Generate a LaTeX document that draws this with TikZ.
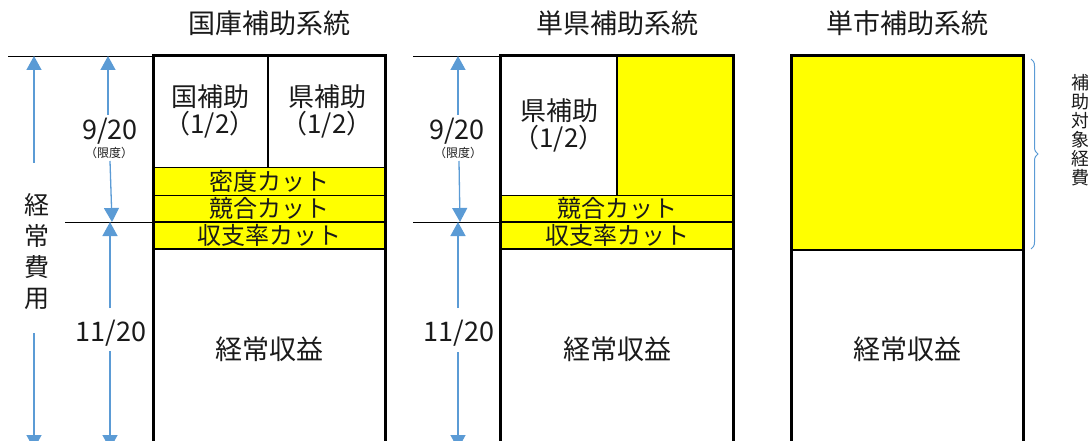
\documentclass[tikz,border=0pt]{standalone}
\usepackage{fontspec}
\setmainfont{Noto Sans CJK JP}
\usetikzlibrary{arrows.meta,decorations.pathreplacing}
\definecolor{ablue}{HTML}{5B9BD5}
\definecolor{ylw}{HTML}{FFFF00}
\definecolor{txt}{HTML}{1A1A1A}
\begin{document}
\begin{tikzpicture}[x=1pt,y=-1pt,
  ar/.style={draw=ablue,line width=1.3pt,-{Triangle[width=15pt,length=14pt]}},
  thin/.style={draw=black,line width=0.9pt},
  frame/.style={draw=black,line width=3pt},
  mid/.style={draw=black,line width=2.6pt},
  title/.style={font=\fontsize{27}{30}\selectfont,text=txt,inner sep=0pt},
  big/.style={font=\fontsize{26}{27}\selectfont,text=txt,inner sep=0pt,align=center},
  cut/.style={font=\fontsize{24}{26}\selectfont,text=txt,inner sep=0pt},
  res/.style={font=\fontsize{27}{30}\selectfont,text=txt,inner sep=0pt},
  frac/.style={font=\fontsize{27}{30}\selectfont,text=txt,inner sep=0pt},
  small/.style={font=\fontsize{12}{14}\selectfont,text=txt,inner sep=0pt},
  vert/.style={font=\fontsize{25}{31}\selectfont,text=txt,inner sep=0pt,align=center},
  vsmall/.style={font=\fontsize{18}{19}\selectfont,text=txt,inner sep=0pt,align=center}]
\useasboundingbox (0,0) rectangle (1088,441);

% titles
\node[title] (t1) at (269,23) {国庫補助系統};
\node[title] (t2) at (617,23) {単県補助系統};
\node[title] (t3) at (907,23) {単市補助系統};

% ---------- column 1 ----------
\fill[ylw] (153,167) rectangle (385,249);
\draw[thin] (153,167) -- (385,167);
\draw[thin] (153,195) -- (385,195);
\draw[mid] (153,222) -- (385,222);
\draw[mid] (153,249) -- (385,249);
\draw[mid] (268,56) -- (268,167);
\draw[frame] (153,460) -- (153,56) -- (385,56) -- (385,460);
\node[big] (kuni) at (210,111) {国補助\\（1/2）};
\node[big] (ken1) at (327,111) {県補助\\（1/2）};
\node[cut] (mitsudo) at (269,181) {密度カット};
\node[cut] (kyogo1) at (269,208.5) {競合カット};
\node[cut] (shushi1) at (269,235.5) {収支率カット};
\node[res] (shueki1) at (269,349) {経常収益};

% left dimension lines col1
\coordinate (h1a) at (8,56);   \coordinate (h1b) at (153,56);
\coordinate (h2a) at (65,222); \coordinate (h2b) at (153,222);
\draw[thin] (h1a) -- (h1b);
\draw[thin] (h2a) -- (h2b);

\node[vert] (keijo) at (37,252) {経\\常\\費\\用};
\coordinate (k1s) at (34,163); \coordinate (k1e) at (34,56);
\coordinate (k2s) at (34,333); \coordinate (k2e) at (34,449);
\draw[ar] (k1s) -- (k1e);
\draw[ar] (k2s) -- (k2e);

\node[frac] (f1) at (110,131) {9/20};
\node[small] (g1) at (109,153) {（限度）};
\node[frac] (e1) at (111,333) {11/20};
\coordinate (a1s) at (108,115); \coordinate (a1e) at (108,56);
\coordinate (a2s) at (110,161); \coordinate (a2e) at (112,222);
\coordinate (a3s) at (110,308); \coordinate (a3e) at (110,222);
\coordinate (a4s) at (110,351); \coordinate (a4e) at (110,449);
\draw[ar] (a1s) -- (a1e);
\draw[ar] (a2s) -- (a2e);
\draw[ar] (a3s) -- (a3e);
\draw[ar] (a4s) -- (a4e);

% ---------- column 2 ----------
\fill[ylw] (617,56) rectangle (733,249);
\fill[ylw] (500,195) rectangle (733,249);
\draw[thin] (500,195) -- (733,195);
\draw[mid] (500,222) -- (733,222);
\draw[mid] (500,249) -- (733,249);
\draw[mid] (617,56) -- (617,195);
\draw[frame] (500,460) -- (500,56) -- (733,56) -- (733,460);
\node[big] (ken2) at (559,125) {県補助\\（1/2）};
\node[cut] (kyogo2) at (617,208.5) {競合カット};
\node[cut] (shushi2) at (617,235.5) {収支率カット};
\node[res] (shueki2) at (617,349) {経常収益};

\coordinate (h3a) at (413,56);  \coordinate (h3b) at (500,56);
\coordinate (h4a) at (413,222); \coordinate (h4b) at (500,222);
\draw[thin] (h3a) -- (h3b);
\draw[thin] (h4a) -- (h4b);

\node[frac] (f2) at (457,131) {9/20};
\node[small] (g2) at (458,153) {（限度）};
\node[frac] (e2) at (459,333) {11/20};
\coordinate (b1s) at (458,115); \coordinate (b1e) at (458,56);
\coordinate (b2s) at (459,161); \coordinate (b2e) at (460,222);
\coordinate (b3s) at (458,308); \coordinate (b3e) at (458,222);
\coordinate (b4s) at (458,352); \coordinate (b4e) at (458,449);
\draw[ar] (b1s) -- (b1e);
\draw[ar] (b2s) -- (b2e);
\draw[ar] (b3s) -- (b3e);
\draw[ar] (b4s) -- (b4e);

% ---------- column 3 ----------
\fill[ylw] (791,56) rectangle (1023,250);
\draw[mid] (791,250) -- (1023,250);
\draw[frame] (791,460) -- (791,56) -- (1023,56) -- (1023,460);
\node[res] (shueki3) at (907,349) {経常収益};

\coordinate (br1) at (1031,59); \coordinate (br2) at (1031,249);
\draw[draw=ablue,line width=1pt,decorate,decoration={brace,amplitude=7pt}] (br1) -- (br2);
\node[vsmall] (taisho) at (1080,130) {補\\助\\対\\象\\経\\費};
\end{tikzpicture}
\end{document}
